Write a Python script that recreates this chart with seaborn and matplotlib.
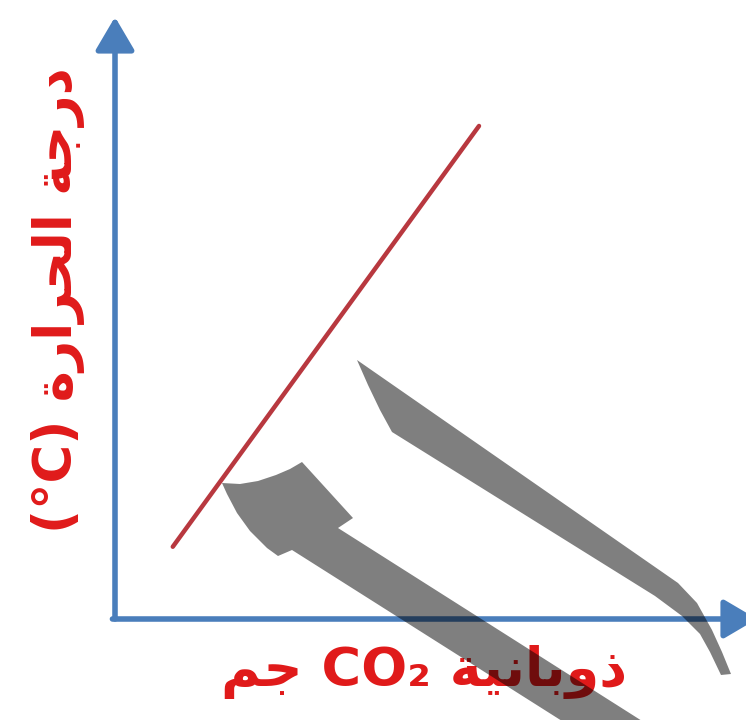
import numpy as np
import pandas as pd
import matplotlib
matplotlib.use("Agg")
import matplotlib.pyplot as plt
from matplotlib.patches import Polygon
import seaborn as sns

# ---- data (schematic) ----
solubility = [0.90, 5.67]      # CO2 solubility (arbitrary units)
temperature = [1.20, 8.19]     # temperature (arbitrary units)
x_label = "ذوبانية CO₂ جم"
y_label = "درجة الحرارة (°C)"

# ---- minimal Arabic shaping (presentation forms) + RTL ordering ----
FORMS = {
    'ا': ('\uFE8D', '\uFE8E', None, None),
    'ب': ('\uFE8F', '\uFE90', '\uFE91', '\uFE92'),
    'ة': ('\uFE93', '\uFE94', None, None),
    'ج': ('\uFE9D', '\uFE9E', '\uFE9F', '\uFEA0'),
    'ح': ('\uFEA1', '\uFEA2', '\uFEA3', '\uFEA4'),
    'د': ('\uFEA9', '\uFEAA', None, None),
    'ذ': ('\uFEAB', '\uFEAC', None, None),
    'ر': ('\uFEAD', '\uFEAE', None, None),
    'ل': ('\uFEDD', '\uFEDE', '\uFEDF', '\uFEE0'),
    'م': ('\uFEE1', '\uFEE2', '\uFEE3', '\uFEE4'),
    'ن': ('\uFEE5', '\uFEE6', '\uFEE7', '\uFEE8'),
    'و': ('\uFEED', '\uFEEE', None, None),
    'ي': ('\uFEF1', '\uFEF2', '\uFEF3', '\uFEF4'),
}


def shape_word(w):
    out = []
    for i, ch in enumerate(w):
        if ch not in FORMS:
            out.append(ch)
            continue
        prev = w[i - 1] if i > 0 else None
        nxt = w[i + 1] if i + 1 < len(w) else None
        dual = FORMS[ch][2] is not None
        pj = prev in FORMS and FORMS[prev][2] is not None
        nj = dual and nxt in FORMS
        if pj and nj:
            f = FORMS[ch][3]
        elif pj:
            f = FORMS[ch][1]
        elif nj:
            f = FORMS[ch][2]
        else:
            f = FORMS[ch][0]
        out.append(f)
    return "".join(out)


def rtl(text):
    toks = []
    for t in text.split(" "):
        if any(c in FORMS for c in t):
            toks.append(shape_word(t)[::-1])
        else:
            toks.append(t)
    return " ".join(toks[::-1])


# ---- figure ----
sns.set_style("white")
W, H = 746, 720
fig = plt.figure(figsize=(W / 100, H / 100), dpi=100)
fig.patch.set_facecolor("white")

x0, x1, ytop, ybot = 115, 757, 17, 619
ax = fig.add_axes([x0 / W, (H - ybot) / H, (x1 - x0) / W, (ybot - ytop) / H])
ax.set_xlim(0, 10)
ax.set_ylim(0, 10)
ax.set_facecolor("none")
for s in ax.spines.values():
    s.set_visible(False)
ax.set_xticks([])
ax.set_yticks([])

df = pd.DataFrame({"solubility": solubility, "temperature": temperature})
sns.lineplot(data=df, x="solubility", y="temperature", ax=ax,
             color="#B8383F", linewidth=3.2, zorder=3)
ax.set_xlabel("")
ax.set_ylabel("")

blue = "#4A7EBB"
arrow = dict(arrowstyle="-|>,head_length=0.85,head_width=0.5", lw=4.0,
             color=blue, mutation_scale=24, shrinkA=0, shrinkB=0)
ax.annotate("", xy=(0, 1), xytext=(0, 0), xycoords="axes fraction",
            textcoords="axes fraction", arrowprops=arrow, annotation_clip=False)
ax.annotate("", xy=(1, 0), xytext=(-0.004, 0), xycoords="axes fraction",
            textcoords="axes fraction", arrowprops=arrow, annotation_clip=False)

red = "#E01A1A"
fig.text(424 / W, 1 - 672 / H, rtl(x_label), color=red, fontsize=39,
         fontweight="bold", family="DejaVu Sans", ha="center", va="center")
fig.text(58 / W, 1 - 300 / H, rtl(y_label), color=red, fontsize=38,
         fontweight="bold", family="DejaVu Sans", ha="center", va="center",
         rotation=90)

# ---- grey watermark overlay ----
def fig_poly(pts):
    return [(x / W, 1 - y / H) for x, y in pts]

blade = [(357, 360), (678, 583), (697, 603), (712, 630), (722, 652), (731, 674),
         (721, 675), (710, 652), (700, 634), (682, 616), (655, 596), (392, 432),
         (380, 410), (368, 385)]
hook = [(222, 483), (240, 484), (258, 481), (276, 475), (290, 469), (302, 462),
        (353, 518), (338, 528), (672, 740), (592, 740), (292, 550), (278, 556),
        (267, 548), (250, 531), (237, 513), (227, 494)]
for pts in (blade, hook):
    fig.add_artist(Polygon(fig_poly(pts), closed=True, transform=fig.transFigure,
                           facecolor="black", alpha=0.5, edgecolor="none", zorder=10))

fig.savefig("out.png", dpi=100, facecolor="white")
